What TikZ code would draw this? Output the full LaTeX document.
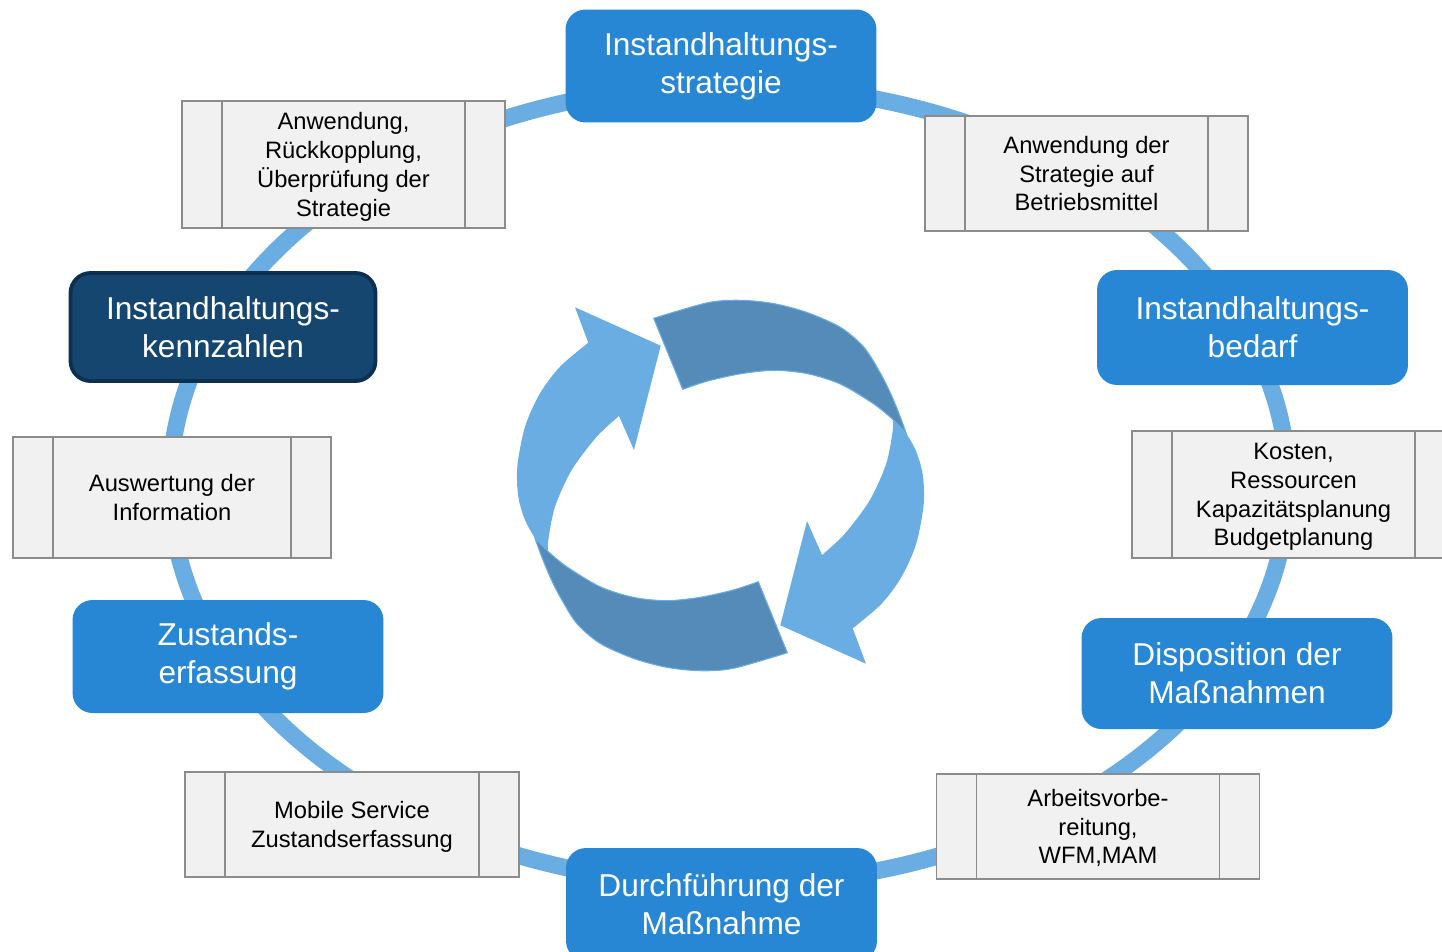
\documentclass[tikz,border=0pt]{standalone}
\usepackage{fontspec}
\setmainfont{Liberation Sans}
\usetikzlibrary{backgrounds}
\definecolor{boxblue}{HTML}{2887D4}
\definecolor{boxnavy}{HTML}{154670}
\definecolor{navyline}{HTML}{0E3050}
\definecolor{ringblue}{HTML}{6AADE3}
\definecolor{bandblue}{HTML}{558BB9}
\definecolor{greyfill}{HTML}{F1F1F1}
\definecolor{greyline}{HTML}{8C8C8C}
\begin{document}
\begin{tikzpicture}[x=0.02cm,y=-0.02cm]
    \tikzstyle{phase}=[rectangle,rounded corners=0.4cm,fill=boxblue,text=white,align=center,minimum width=6.22cm,minimum height=2.26cm,inner sep=0pt,font=\fontsize{18}{21.5}\selectfont]
    \tikzstyle{current}=[phase,fill=boxnavy,draw=navyline,line width=2.2pt,minimum width=6.1cm,minimum height=2.16cm]
    \tikzstyle{task}=[rectangle,fill=greyfill,draw=greyline,line width=0.8pt,align=center,minimum width=6.46cm,inner sep=0pt,text depth=0pt,font=\fontsize{13.5}{16.4}\selectfont,
        path picture={\draw[greyline,line width=0.8pt] ([xshift=0.8cm]path picture bounding box.north west) -- ([xshift=0.8cm]path picture bounding box.south west)
            ([xshift=-0.8cm]path picture bounding box.north east) -- ([xshift=-0.8cm]path picture bounding box.south east);}]
    \tikzstyle{ring}=[draw=ringblue,line width=0.34cm]
    \tikzstyle{front}=[fill=ringblue]
    \tikzstyle{back}=[fill=bandblue,draw=ringblue,line width=0.6pt]

    \useasboundingbox (0,0) rectangle (1442,951);
    \clip (0,0) rectangle (1442,951);

    \node[phase] at (721,66) (strat) {Instandhaltungs-\\strategie};
    \node[task,minimum height=2.3cm] at (1086.5,173.5) (apply) {Anwendung der\\Strategie auf\\Betriebsmittel};
    \node[phase,minimum height=2.3cm] at (1252.5,327.5) (need) {Instandhaltungs-\\bedarf};
    \node[task,minimum height=2.54cm] at (1293.5,494.5) (cost) {Kosten,\\Ressourcen\\Kapazitätsplanung\\Budgetplanung};
    \node[phase,minimum height=2.22cm] at (1237,673.5) (plan) {Disposition der\\Maßnahmen};
    \node[task,minimum height=2.1cm] at (1098,826.5) (prep) {Arbeitsvorbe-\\reitung,\\WFM,MAM};
    \node[phase] at (721.5,904.5) (exec) {Durchführung der\\Maßnahme};
    \node[task,minimum width=6.68cm,minimum height=2.1cm] at (352,824.5) (mobile) {Mobile Service\\Zustandserfassung};
    \node[phase] at (228,656.5) (state) {Zustands-\\erfassung};
    \node[task,minimum width=6.36cm,minimum height=2.42cm] at (172,497.5) (eval) {Auswertung der\\Information};
    \node[current] at (223,327) (kpi) {Instandhaltungs-\\kennzahlen};
    \node[task,minimum height=2.54cm] at (343.5,164.5) (review) {Anwendung,\\Rückkopplung,\\Überprüfung der\\Strategie};

    \coordinate (hub) at (729,485);
    \begin{scope}[on background layer]
        \draw[ring] (hub) ellipse [x radius=11.18cm, y radius=8cm];
    \end{scope}

    \foreach \turn in {0,180} {
        \begin{scope}[rotate around={\turn:(720.5,485.5)}]
            \fill[front] (660.7,345.7) -- (634,450) -- (619,416)
                -- plot[smooth] coordinates {(619,416) (596.7,436.7) (571.7,470) (555,506.7) (548.3,540) (548.3,551.7)}
                -- (535,538.3)
                -- plot[smooth] coordinates {(535,538.3) (525,520) (518.3,496.7) (517.3,466.7) (525,426.7) (540,393.3) (560,366.7) (588.3,342.7)}
                -- (575,307.3) -- cycle;
            \filldraw[back] (535,538.3)
                -- plot[smooth] coordinates {(535,538.3) (541.7,556.7) (550,576.7) (560,596.7) (576.7,623.3) (600,643.3) (633.3,658.3) (666.7,667.3) (700,670.7) (733.3,668.3) (787.3,652.7)}
                -- (758.3,581.7)
                -- plot[smooth] coordinates {(758.3,581.7) (733.3,590) (700,597.3) (666.7,600.7) (633.3,597.3) (600,586.7) (566.7,566.7) (548.3,551.7)}
                -- cycle;
        \end{scope}
    }
\end{tikzpicture}
\end{document}
